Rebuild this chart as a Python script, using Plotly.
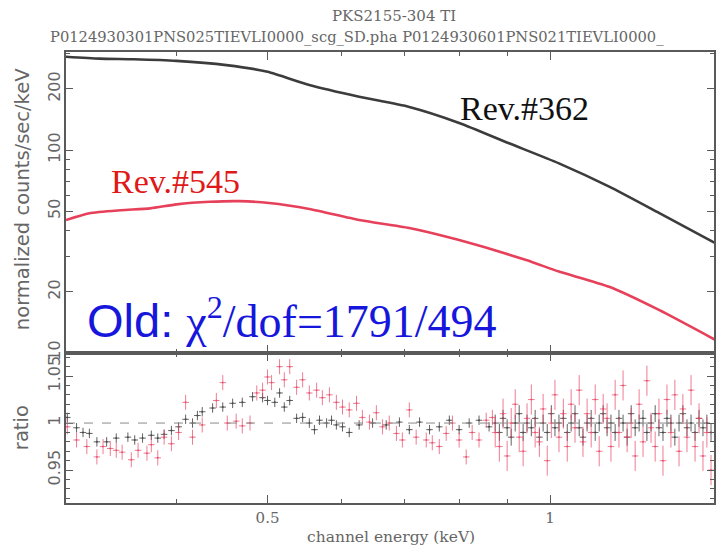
import plotly.graph_objects as go

# ---- upper panel: unfolded count spectra (normalized counts/sec/keV) ----
energy_362 = [0.305, 0.331, 0.360, 0.400, 0.452, 0.500, 0.554, 0.626, 0.708,
              0.800, 0.904, 1.022, 1.156, 1.306, 1.496]
counts_362 = [288, 282, 280, 275, 262, 243, 209, 183, 163,
              136, 108, 86, 66, 49, 35]

energy_545 = [0.305, 0.323, 0.349, 0.375, 0.400, 0.434, 0.467, 0.502, 0.554,
              0.626, 0.708, 0.800, 0.943, 1.022, 1.156, 1.306, 1.500]
counts_545 = [45.2, 48.8, 50.5, 51.6, 54.0, 55.6, 56.0, 54.8, 51.2,
              45.2, 41.3, 36.0, 28.7, 25.2, 21.2, 16.3, 11.6]

# ---- lower panel: data/model ratio ----
ratio_e_362_lo = [0.306, 0.313, 0.318, 0.323, 0.329, 0.337, 0.345, 0.355, 0.361, 0.368,
                  0.376, 0.382, 0.388, 0.395, 0.402, 0.409, 0.416, 0.421, 0.426, 0.437,
                  0.448, 0.459, 0.470, 0.482, 0.494, 0.500, 0.509, 0.515, 0.521, 0.528,
                  0.537, 0.545, 0.554, 0.561, 0.568, 0.578, 0.585, 0.592, 0.601, 0.611,
                  0.626, 0.647, 0.669, 0.691, 0.708, 0.726, 0.744, 0.762, 0.781, 0.800,
                  0.820, 0.840, 0.861]
ratio_362_lo = [1.006, 0.995, 0.990, 0.989, 0.980, 0.980, 0.984, 0.985, 0.982, 0.984,
                0.987, 0.984, 0.988, 0.992, 0.996, 1.004, 1.000, 1.008, 1.012, 1.016,
                1.017, 1.021, 1.022, 1.028, 1.027, 1.024, 1.022, 1.032, 1.017, 1.024,
                1.005, 1.006, 1.000, 0.993, 1.003, 1.000, 1.003, 0.998, 0.996, 0.990,
                0.998, 1.000, 0.998, 1.001, 0.993, 1.001, 0.993, 0.996, 1.003, 0.993,
                1.000, 1.003, 0.996]

ratio_e_545_lo = [0.306, 0.313, 0.321, 0.329, 0.334, 0.340, 0.345, 0.350, 0.358, 0.364,
                  0.372, 0.376, 0.382, 0.388, 0.395, 0.402, 0.409, 0.416, 0.426, 0.441,
                  0.448, 0.453, 0.463, 0.470, 0.479, 0.487, 0.494, 0.500, 0.505, 0.515,
                  0.521, 0.528, 0.537, 0.545, 0.554, 0.564, 0.572, 0.582, 0.592, 0.601,
                  0.611, 0.622, 0.631, 0.642, 0.653, 0.663, 0.674, 0.686, 0.696, 0.708,
                  0.720, 0.738, 0.749, 0.762, 0.775, 0.787, 0.800, 0.814, 0.826, 0.840,
                  0.855, 0.868]
ratio_545_lo = [0.996, 0.982, 0.975, 0.964, 0.975, 0.973, 0.971, 0.969, 0.961, 0.971,
                0.968, 0.977, 0.963, 0.985, 0.978, 0.990, 1.022, 0.985, 0.998, 1.024,
                1.043, 1.000, 1.002, 0.997, 1.000, 1.032, 1.035, 1.049, 1.043, 1.060,
                1.046, 1.060, 1.038, 1.046, 1.032, 1.035, 1.027, 1.030, 1.022, 1.017,
                1.014, 1.021, 1.006, 1.001, 1.011, 0.996, 1.000, 0.989, 0.982, 1.014,
                0.985, 0.982, 0.979, 0.975, 0.989, 1.000, 0.982, 0.964, 0.990, 0.982,
                1.003, 1.006]

# finer channels above ~0.87 keV (shared grid for both observations)
ratio_e_hi = [0.874, 0.883, 0.891, 0.900, 0.909, 0.918, 0.927, 0.936, 0.945, 0.955,
              0.964, 0.974, 0.983, 0.993, 1.003, 1.012, 1.022, 1.033, 1.043, 1.053,
              1.063, 1.074, 1.084, 1.095, 1.106, 1.117, 1.128, 1.139, 1.150, 1.161,
              1.173, 1.184, 1.196, 1.208, 1.220, 1.232, 1.244, 1.256, 1.268, 1.281,
              1.294, 1.306, 1.319, 1.332, 1.345, 1.358, 1.372, 1.385, 1.399, 1.413,
              1.427, 1.441, 1.455, 1.469, 1.484]
ratio_362_hi = [1.000, 0.990, 1.005, 0.995, 0.985, 1.000, 1.010, 0.990, 1.000, 0.995,
                1.005, 0.985, 1.000, 0.990, 1.010, 0.995, 1.000, 1.005, 0.990, 1.000,
                1.010, 0.995, 0.985, 1.000, 1.005, 0.990, 1.000, 1.010, 0.995, 1.000,
                0.990, 1.005, 1.000, 0.985, 1.010, 0.995, 1.000, 1.005, 0.990, 1.000,
                1.010, 0.995, 0.990, 1.005, 1.000, 0.985, 1.000, 1.010, 0.995, 1.000,
                0.990, 1.005, 0.995, 1.000, 0.990]
ratio_545_hi = [0.990, 0.975, 1.010, 0.965, 1.000, 1.020, 0.985, 0.970, 1.005, 1.025,
                0.990, 0.980, 1.015, 0.960, 1.000, 1.030, 0.985, 1.010, 0.975, 1.020,
                0.995, 1.035, 0.980, 1.010, 0.990, 1.025, 0.970, 1.015, 1.005, 0.975,
                1.030, 0.990, 1.040, 0.985, 1.000, 0.965, 1.020, 0.980, 1.045, 0.995,
                0.975, 1.010, 0.960, 1.025, 0.990, 1.030, 0.970, 1.015, 0.985, 1.035,
                0.975, 1.005, 0.965, 0.990, 0.950]

err_362_lo, err_362_hi = 0.005, 0.009
err_545_lo, err_545_hi = 0.008, 0.016

y_ticks_top = [10, 20, 50, 100, 200]
y_ticks_bot = [0.95, 1, 1.05]
x_ticks = [0.5, 1]

BLACK = "#3c3c3c"
RED = "#e6405a"
AXIS = "#5a5a5a"
LABEL = "#666666"

fig = go.Figure()

fig.add_trace(go.Scatter(
    x=energy_362, y=counts_362, mode="lines",
    line=dict(color=BLACK, width=2.6, shape="spline", smoothing=0.6),
    xaxis="x", yaxis="y", hoverinfo="skip"))
fig.add_trace(go.Scatter(
    x=energy_545, y=counts_545, mode="lines",
    line=dict(color=RED, width=2.6, shape="spline", smoothing=0.6),
    xaxis="x", yaxis="y", hoverinfo="skip"))


def ratio_trace(e, r, err_lo, n_lo, err_hi, color):
    errs = [err_lo] * n_lo + [err_hi] * (len(r) - n_lo)
    return go.Scatter(
        x=e, y=r, mode="markers",
        marker=dict(size=2, color=color),
        error_y=dict(type="data", array=errs, color=color, thickness=1, width=0),
        error_x=dict(type="percent", value=0.8, color=color, thickness=1, width=0),
        xaxis="x2", yaxis="y2", hoverinfo="skip")


fig.add_trace(ratio_trace(ratio_e_362_lo + ratio_e_hi, ratio_362_lo + ratio_362_hi,
                          err_362_lo, len(ratio_362_lo), err_362_hi,
                          "rgba(70,70,70,0.85)"))
fig.add_trace(ratio_trace(ratio_e_545_lo + ratio_e_hi, ratio_545_lo + ratio_545_hi,
                          err_545_lo, len(ratio_545_lo), err_545_hi,
                          "rgba(232,70,100,0.7)"))

split = 0.3326
x_range = [-0.5157, 0.1746]

common_x = dict(type="log", range=x_range, showgrid=False, zeroline=False,
                showline=True, linecolor=AXIS, linewidth=1.5, mirror="allticks",
                ticks="inside", ticklen=8, tickcolor=AXIS, tickwidth=1,
                tickvals=x_ticks, ticktext=["0.5", "1"],
                minor=dict(tickvals=[0.4, 0.6, 0.7, 0.8, 0.9], ticks="inside",
                           ticklen=4, tickcolor=AXIS, tickwidth=1))

fig.update_layout(
    width=718, height=547,
    margin=dict(l=66, r=2, t=52, b=44),
    paper_bgcolor="white", plot_bgcolor="white",
    showlegend=False,
    xaxis=dict(common_x, domain=[0, 1], anchor="y", showticklabels=False),
    xaxis2=dict(common_x, domain=[0, 1], anchor="y2", showticklabels=True,
                tickfont=dict(family="DejaVu Serif", size=15, color=LABEL),
                ticklabelstandoff=0),
    yaxis=dict(type="log", range=[1, 2.483], domain=[split, 1], anchor="x",
               showgrid=False, zeroline=False, showline=True, linecolor=AXIS,
               linewidth=1.5, mirror="allticks", ticks="inside", ticklen=7,
               tickcolor=AXIS, tickvals=y_ticks_top,
               ticktext=[str(v) for v in y_ticks_top], tickangle=-90,
               ticklabelstandoff=-2,
               tickfont=dict(family="DejaVu Sans", size=16, color=LABEL),
               minor=dict(tickvals=[30, 40, 60, 70, 80, 90, 300], ticks="inside",
                          ticklen=4, tickcolor=AXIS)),
    yaxis2=dict(range=[0.915, 1.0745], domain=[0, split], anchor="x2",
                showgrid=False, zeroline=False, showline=True, linecolor=AXIS,
                linewidth=1.5, mirror="allticks", ticks="inside", ticklen=7,
                tickcolor=AXIS, tickvals=y_ticks_bot,
                ticktext=["0.95", "1", "1.05"], tickangle=-90,
                ticklabelstandoff=-2,
                tickfont=dict(family="DejaVu Sans", size=16, color=LABEL),
                minor=dict(tickvals=[0.92, 0.93, 0.94, 0.96, 0.97, 0.98, 0.99,
                                     1.01, 1.02, 1.03, 1.04, 1.06, 1.07],
                           ticks="inside", ticklen=4, tickcolor=AXIS)),
)

# unity reference line in the ratio panel
fig.add_shape(type="line", xref="x2 domain", yref="y2", x0=0, x1=1, y0=1, y1=1,
              line=dict(color="#8a8a8a", width=1, dash="dash"))


def px_x(px):
    return (px - 66) / 650


def px_y(py):
    return (503 - py) / 451


ann = [
    dict(text="PKS2155-304 TI", x=px_x(395), y=px_y(16),
         font=dict(family="DejaVu Serif", size=15, color=LABEL)),
    dict(text="P0124930301PNS025TIEVLI0000_scg_SD.pha P0124930601PNS021TIEVLI0000_",
         x=px_x(358), y=px_y(37),
         font=dict(family="DejaVu Serif", size=14.7, color=LABEL)),
    dict(text="channel energy (keV)", x=px_x(392), y=px_y(537),
         font=dict(family="DejaVu Serif", size=15.5, color=LABEL)),
    dict(text="normalized counts/sec/keV", x=px_x(22), y=px_y(199), textangle=-90,
         font=dict(family="DejaVu Sans", size=19.5, color=LABEL)),
    dict(text="ratio", x=px_x(21), y=px_y(428), textangle=-90,
         font=dict(family="DejaVu Sans", size=19.5, color=LABEL)),
    dict(text="Rev.#362", x=px_x(526), y=px_y(108),
         font=dict(family="Liberation Serif", size=34, color="#111111")),
    dict(text="Rev.#545", x=px_x(176), y=px_y(182),
         font=dict(family="Liberation Serif", size=34, color="#e01818")),
    dict(text='<span style="font-family:Liberation Sans;font-size:47px">Old: </span>'
              'χ<sup style="font-size:28px">2</sup>/dof=1791/494',
         x=px_x(85), y=px_y(318), xanchor="left",
         font=dict(family="Liberation Serif", size=46, color="#1616dc")),
]
for a in ann:
    base = dict(xref="paper", yref="paper", showarrow=False,
                xanchor="center", yanchor="middle")
    base.update(a)
    fig.add_annotation(**base)

fig.write_html("out.html")
